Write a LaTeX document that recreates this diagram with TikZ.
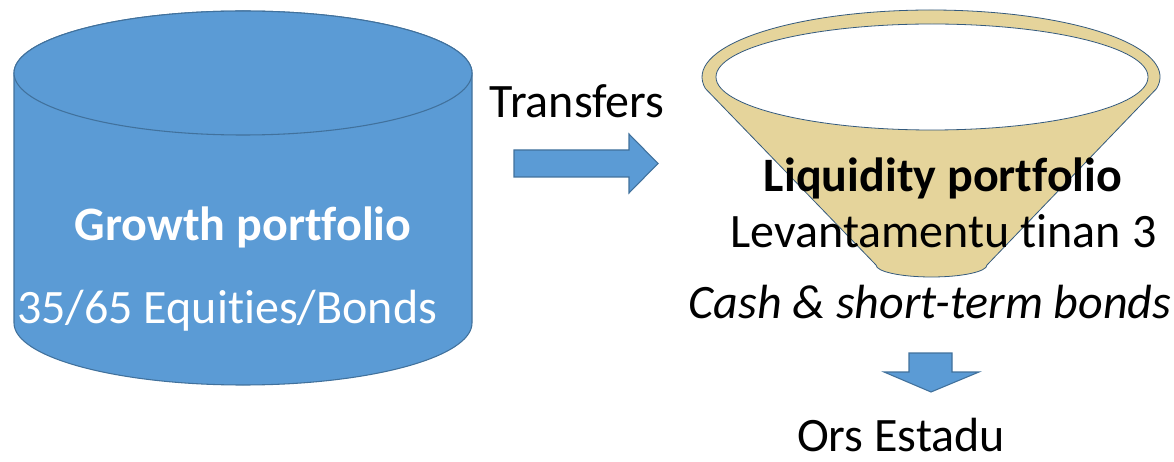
\documentclass[tikz,border=0pt]{standalone}
\usepackage{fontspec}
\setmainfont{Carlito}[Ligatures=NoCommon]
\usetikzlibrary{calc}
\definecolor{myblue}{HTML}{5B9BD5}
\definecolor{myedge}{HTML}{41719C}
\definecolor{mytan}{HTML}{E5D49B}
\tikzset{
  BlockStyle/.style={fill=myblue, draw=myedge, line width=0.8pt},
  FunnelStyle/.style={fill=mytan, draw=myedge!80!black, line width=0.6pt},
  TextStyle/.style={inner sep=0, anchor=base, font=\fontsize{36}{42}\selectfont}
}
\begin{document}
\begin{tikzpicture}[x=0.75pt,y=0.75pt]
\useasboundingbox (0,0) rectangle (1174,461);
% growth cylinder
\path[BlockStyle] (14,388) -- (14,138) arc[start angle=180,end angle=360,x radius=229,y radius=62]
  -- (472,388) arc[start angle=0,end angle=180,x radius=229,y radius=62] -- cycle;
\draw[BlockStyle] (243,388) ellipse[x radius=229,y radius=62];
\node[TextStyle, text=white, font=\fontsize{36}{42}\selectfont\bfseries] (growth) at (243,220) {Growth portfolio};
\node[TextStyle, text=white, anchor=base west] (equities) at (17,138) {35/65 Equities/Bonds};
% transfer arrow
\node[TextStyle] (transfers) at (577,343) {Transfers};
\path[BlockStyle] (514,284) -- (629,284) -- (629,268) -- (658,297.5) -- (629,327) -- (629,311) -- (514,311) -- cycle;
% liquidity funnel
\path[FunnelStyle] ($(931,384)+(190:229 and 67)$) -- (876,196)
  arc[start angle=180,end angle=360,x radius=55.5,y radius=12]
  -- ($(931,384)+(350:229 and 67)$) arc[start angle=350,end angle=550,x radius=229,y radius=67] -- cycle;
\draw[FunnelStyle, fill=white] (932,384) ellipse[x radius=216,y radius=53];
\node[TextStyle, font=\fontsize{36}{42}\selectfont\bfseries] (liquidity) at (943,269) {Liquidity portfolio};
\node[TextStyle] (withdraw) at (943.5,213) {Levantamentu tinan 3};
\node[TextStyle, font=\fontsize{36}{42}\selectfont\itshape] (cash) at (930,143) {Cash \& short-term bonds};
% down arrow
\path[BlockStyle] (909,108) -- (952,108) -- (952,89) -- (979,89) -- (931,69) -- (884,89) -- (909,89) -- cycle;
\node[TextStyle] (state) at (901,10) {Ors Estadu};
\end{tikzpicture}
\end{document}
